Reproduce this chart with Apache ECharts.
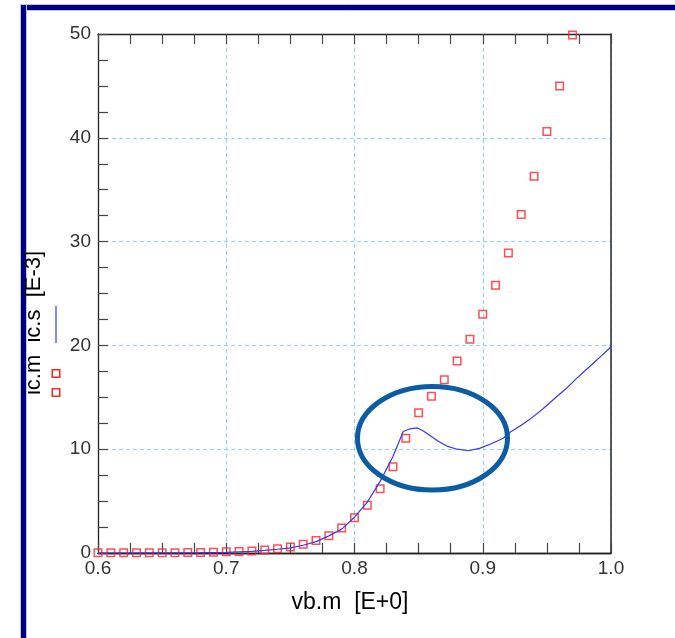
<!DOCTYPE html>
<html>
<head>
<meta charset="utf-8">
<script src="https://cdn.jsdelivr.net/npm/echarts@6/dist/echarts.min.js"></script>
<style>
  html, body { margin: 0; padding: 0; background: #ffffff; }
  #chart { width: 675px; height: 638px; }
</style>
</head>
<body>
<div id="chart"></div>
<script>
// Measured collector current ic.m [mA] against base voltage vb.m [V]
const vbMeasured = [0.60, 0.61, 0.62, 0.63, 0.64, 0.65, 0.66, 0.67, 0.68, 0.69,
                    0.70, 0.71, 0.72, 0.73, 0.74, 0.75, 0.76, 0.77, 0.78, 0.79,
                    0.80, 0.81, 0.82, 0.83, 0.84, 0.85, 0.86, 0.87, 0.88, 0.89,
                    0.90, 0.91, 0.92, 0.93, 0.94, 0.95, 0.96, 0.97];
const icMeasured = [0.02, 0.02, 0.02, 0.02, 0.02, 0.03, 0.03, 0.04, 0.06, 0.08,
                    0.11, 0.15, 0.20, 0.28, 0.40, 0.58, 0.85, 1.20, 1.65, 2.40,
                    3.40, 4.60, 6.20, 8.30, 11.05, 13.5, 15.1, 16.7, 18.5, 20.6,
                    23.0, 25.8, 28.9, 32.6, 36.3, 40.6, 45.0, 49.9];

// Simulated collector current ic.s [mA]
const vbSim = [0.60, 0.65, 0.68, 0.70, 0.72, 0.73, 0.74, 0.75, 0.76, 0.77,
               0.78, 0.79, 0.80, 0.81, 0.82, 0.83, 0.838, 0.843, 0.849, 0.853,
               0.858, 0.865, 0.872, 0.88, 0.889, 0.898, 0.907, 0.916, 0.921, 0.93,
               0.937, 0.947, 0.958, 0.966, 0.973, 0.981, 0.989, 1.00];
const icSim = [0.00, 0.01, 0.03, 0.06, 0.15, 0.25, 0.36, 0.50, 0.75, 1.10,
               1.65, 2.30, 3.45, 4.90, 6.90, 9.30, 11.7, 11.95, 12.05, 11.8,
               11.4, 10.8, 10.3, 10.0, 9.85, 10.1, 10.55, 11.05, 11.6, 12.3,
               12.9, 13.9, 15.1, 15.95, 16.8, 17.7, 18.6, 19.85];

// Axis tick labels
const xTickLabels = ['0.6', '0.7', '0.8', '0.9', '1.0'];
const yTickLabels = ['0', '10', '20', '30', '40', '50'];

// Highlighted region (data units): centre and radii of the ellipse
const markCentre = [0.8608, 11.05];
const markRadius = [0.0585, 4.99];

const FONT = '"Liberation Sans", Arial, sans-serif';
const GRID_COLOR = '#8fd3f7';
const AXIS_COLOR = '#222222';
const TICK_COLOR = '#444444';

// Inward major + minor ticks (fresh objects for every axis)
function ticks() {
  return {
    axisTick: { show: true, inside: true, length: 10, lineStyle: { color: TICK_COLOR, width: 1.2 } },
    minorTick: { show: true, splitNumber: 4, length: 10, lineStyle: { color: TICK_COLOR, width: 1.2 } }
  };
}

// Frame axis that only carries inward ticks
function tickAxis(position, min, max, interval) {
  const t = ticks();
  return {
    type: 'value', min: min, max: max, interval: interval, position: position,
    axisLine: { show: true, onZero: false, lineStyle: { color: AXIS_COLOR, width: 1.3 } },
    axisTick: t.axisTick,
    minorTick: t.minorTick,
    axisLabel: { show: false },
    splitLine: { show: false }
  };
}

const chart = echarts.init(document.getElementById('chart'));

const measuredPoints = vbMeasured.map((v, i) => [v, icMeasured[i]]);
const simPoints = vbSim.map((v, i) => [v, icSim[i]]);

chart.setOption({
  animation: false,
  backgroundColor: '#ffffff',
  grid: { left: 98, top: 34, right: 64, bottom: 85 },
  xAxis: [
    {
      // data axis: labels and vertical grid lines
      type: 'value', min: 0.6, max: 1.0, interval: 0.1, position: 'bottom',
      axisLine: { show: true, onZero: false, lineStyle: { color: AXIS_COLOR, width: 1.3 } },
      axisTick: { show: false },
      axisLabel: {
        margin: 6, color: '#333333', fontFamily: FONT, fontSize: 19,
        formatter: (v) => xTickLabels[Math.round((v - 0.6) * 10)]
      },
      splitLine: { show: true, lineStyle: { color: GRID_COLOR, width: 1, type: [4, 3] } }
    },
    tickAxis('top', 0.6, 1.0, 0.1),
    tickAxis('bottom', 0.6, 1.0, 0.1)
  ],
  yAxis: [
    {
      type: 'value', min: 0, max: 50, interval: 10, position: 'left',
      axisLine: { show: true, onZero: false, lineStyle: { color: AXIS_COLOR, width: 1.3 } },
      axisTick: ticks().axisTick,
      minorTick: ticks().minorTick,
      axisLabel: {
        margin: 7, color: '#333333', fontFamily: FONT, fontSize: 19,
        padding: [0, 0, 4, 0],
        formatter: (v) => yTickLabels[Math.round(v / 10)]
      },
      splitLine: { show: true, lineStyle: { color: GRID_COLOR, width: 1, type: [4, 3] } }
    },
    {
      type: 'value', min: 0, max: 50, interval: 10, position: 'right',
      axisLine: { show: true, onZero: false, lineStyle: { color: '#333333', width: 1.6 } },
      axisTick: { show: false },
      axisLabel: { show: false },
      splitLine: { show: false }
    }
  ],
  series: [
    {
      name: 'ic.m',
      type: 'scatter',
      data: measuredPoints,
      symbol: 'rect',
      symbolSize: 7.5,
      itemStyle: { color: 'rgba(255,255,255,0)', borderColor: '#ff2323', borderWidth: 1.5 },
      z: 2
    },
    {
      name: 'ic.s',
      type: 'line',
      data: simPoints,
      showSymbol: false,
      symbol: 'none',
      clip: true,
      lineStyle: { color: '#3636ff', width: 1.2 },
      z: 3
    }
  ]
});

// Frame, axis titles, inline legend glyphs and the highlight ellipse
const c = chart.convertToPixel({ xAxisIndex: 0, yAxisIndex: 0 }, markCentre);
const edge = chart.convertToPixel({ xAxisIndex: 0, yAxisIndex: 0 },
  [markCentre[0] + markRadius[0], markCentre[1] + markRadius[1]]);

chart.setOption({
  graphic: [
    // navy window frame
    { type: 'rect', shape: { x: 20.5, y: 4.5, width: 660, height: 6 }, style: { fill: '#000080', stroke: '#c4c4e6', lineWidth: 1 }, z: 10 },
    { type: 'rect', shape: { x: 20.5, y: 4.5, width: 6, height: 640 }, style: { fill: '#000080', stroke: '#c4c4e6', lineWidth: 1 }, z: 10 },
    { type: 'rect', shape: { x: 21, y: 5, width: 5, height: 5 }, style: { fill: '#000080' }, z: 11 },
    // x axis title
    {
      type: 'text', x: 350, y: 603, z: 10,
      style: { text: 'vb.m  [E+0]', font: '23px ' + FONT, fill: '#000000', align: 'center', verticalAlign: 'middle' }
    },
    // y axis title with legend glyphs
    {
      type: 'text', x: 34, y: 323, rotation: Math.PI / 2, z: 10,
      style: { text: 'ic.m  ic.s  [E-3]', font: '22px ' + FONT, fill: '#000000', align: 'center', verticalAlign: 'middle' }
    },
    { type: 'line', shape: { x1: 56, y1: 306, x2: 56, y2: 343 }, style: { stroke: '#3636ff', lineWidth: 1.2 }, z: 10 },
    { type: 'rect', shape: { x: 52.25, y: 369.75, width: 7.5, height: 7.5 }, style: { fill: 'none', stroke: '#ff2323', lineWidth: 1.5 }, z: 10 },
    { type: 'rect', shape: { x: 52.25, y: 388.75, width: 7.5, height: 7.5 }, style: { fill: 'none', stroke: '#ff2323', lineWidth: 1.5 }, z: 10 },
    // highlighted region
    {
      type: 'ellipse', z: 20,
      shape: { cx: c[0], cy: c[1], rx: Math.abs(edge[0] - c[0]), ry: Math.abs(edge[1] - c[1]) },
      style: { fill: 'none', stroke: '#0c5ca5', lineWidth: 5 }
    }
  ]
});
</script>
</body>
</html>
